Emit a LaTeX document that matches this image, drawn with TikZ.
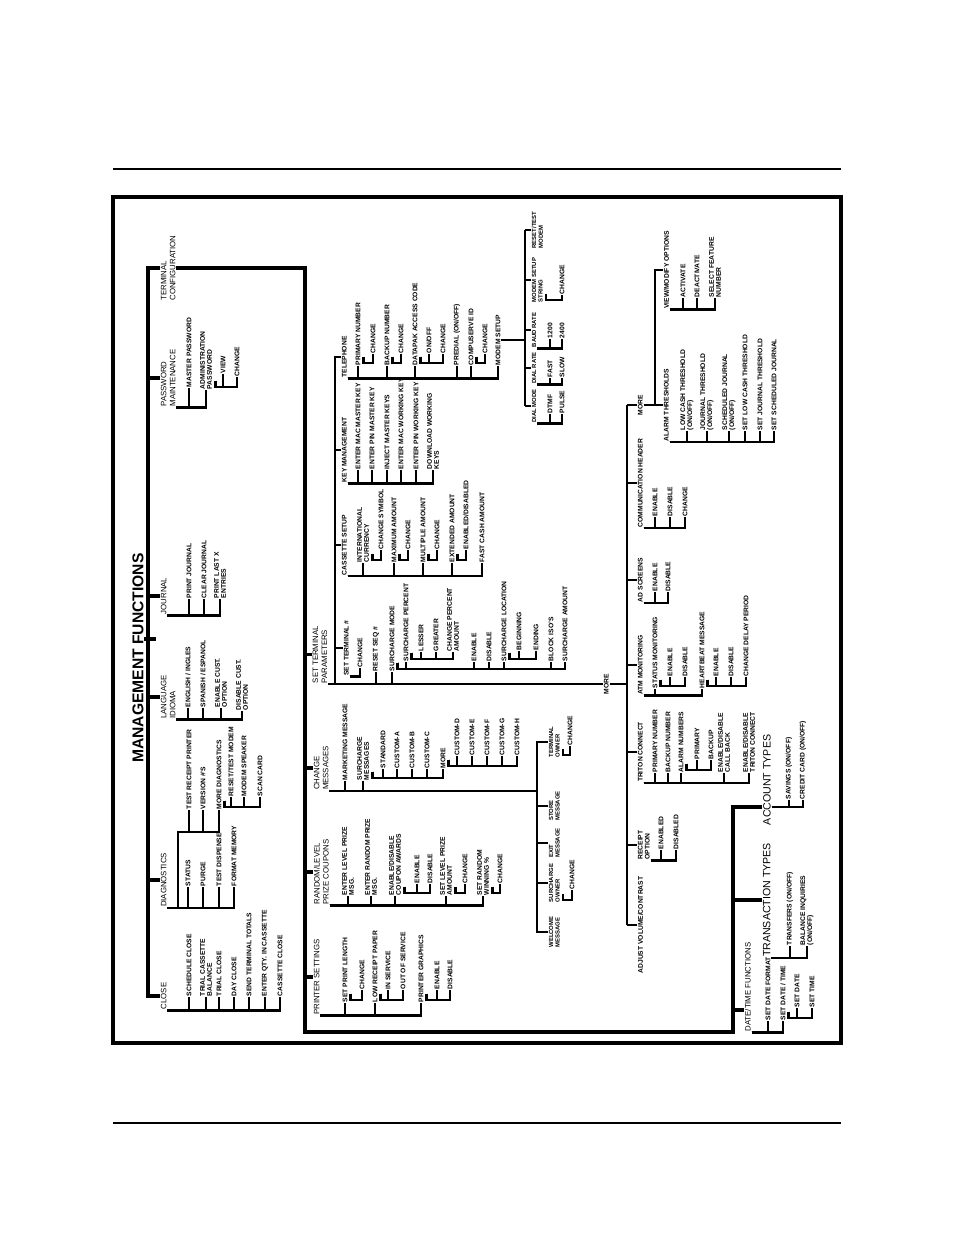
\documentclass[tikz,border=0pt]{standalone}
\usepackage{fontspec}
\setmainfont{Liberation Sans}
\usepackage{tikz}
\usetikzlibrary{calc}
\tikzstyle{br}=[line width=1.7pt]
\tikzstyle{major}=[line width=2.2pt]
\tikzstyle{head}=[rotate=90,anchor=west,inner sep=0.4pt,align=left,font=\fontsize{5}{5.8}\selectfont]
\tikzstyle{leaf}=[rotate=90,anchor=west,inner sep=0.4pt,align=left,font=\bfseries\fontsize{4.3}{4.5}\selectfont]
\tikzstyle{small}=[leaf,font=\bfseries\fontsize{3.8}{4.2}\selectfont]
\tikzstyle{big}=[rotate=90,anchor=west,inner sep=0.4pt,align=left,font=\fontsize{6.8}{7.5}\selectfont]
% bracket under a label, ticks up to its children
\newcommand{\brk}[2]{\foreach \k in {#2} \draw[br] (#1.south west) -| (\k.west);}
\newcommand{\subbrk}[2]{\foreach \k in {#2} \draw[br] ([shift={(1.5pt,6pt)}]#1.south west) -- ([shift={(1.5pt,2pt)}]#1.south west) -| (\k.west);}
\newcommand{\stub}[2]{\draw[br] (#1.north) -- (#1.north -| #2);}
\begin{document}
\begin{tikzpicture}[x=0.64pt,y=-0.64pt]
\useasboundingbox (0,0) rectangle (954,1235);
\draw[line width=1.2pt] (113,169) -- (841,169);
\draw[line width=1.2pt] (113,1123) -- (841,1123);
\draw[line width=2pt] (113,197) rectangle (841,1043);

\node[rotate=90,anchor=west,inner sep=0pt,font=\bfseries\fontsize{10}{12}\selectfont] (mf) at (138,763) {MANAGEMENT FUNCTIONS};

% main column
\node[head,anchor=north] (tc) at (160,268) {TERMINAL\\CONFIGURATION};
\node[head,anchor=north] (pm) at (160,378) {PASSWORD\\MAINTENANCE};
\node[head,anchor=north] (jn) at (160,596) {JOURNAL};
\node[head,anchor=north] (li) at (160,697) {LANGUAGE\\IDIOMA};
\node[head,anchor=north] (dg) at (160,880) {DIAGNOSTICS};
\node[head,anchor=north] (cl) at (160,996) {CLOSE};
\coordinate (sp) at (148,0);
\draw[major] (tc.north) -| (cl.north -| sp) -- (cl.north);
\foreach \k in {pm,jn,li,dg} \draw[major] (\k.north) -- (\k.north -| sp);
\draw[major] ($(mf.south)+(0,-19)$) -- ($(mf.south -| sp)+(8,-19)$);

% password
\node[leaf] (mp) at (189,388) {MASTER PASSWORD};
\node[leaf] (ap) at (206,390) {ADMINISTRATION\\PASSWORD};
\node[leaf] (apv) at (223,374) {VIEW};
\node[leaf] (apc) at (237,377) {CHANGE};
\brk{pm}{mp,ap}
\subbrk{ap}{apv,apc}

% journal
\node[leaf] (pj) at (189,599) {PRINT JOURNAL};
\node[leaf] (cj) at (204,599) {CLEAR JOURNAL};
\node[leaf] (pl) at (220,599) {PRINT LAST X\\ENTRIES};
\brk{jn}{pj,cj,pl}

% language
\node[leaf] (en) at (188,708) {ENGLISH / INGLES};
\node[leaf] (esp) at (203,708) {SPANISH / ESPANOL};
\node[leaf] (ec) at (221,708) {ENABLE CUST.\\OPTION};
\node[leaf] (dc) at (242,711) {DISABLE CUST.\\OPTION};
\brk{li}{en,esp,ec,dc}

% diagnostics
\node[leaf] (st) at (188,887) {STATUS};
\node[leaf] (pu) at (203,887) {PURGE};
\node[leaf] (td) at (219,887) {TEST DISPENSE};
\node[leaf] (fm) at (234,887) {FORMAT MEMORY};
\brk{dg}{st,pu,td,fm}
\coordinate (dgu) at (178,832);
\node[leaf] (tr) at (189,810) {TEST RECEIPT PRINTER};
\node[leaf] (vn) at (203,810) {VERSION \#'S};
\node[leaf] (md) at (219,810) {MORE DIAGNOSTICS};
\draw[br] (dg.south west) -| (dgu) -| (md.west);
\foreach \k in {tr,vn} \draw[br] (dgu) -| (\k.west);
\node[leaf] (rm) at (231,797) {RESET/TEST MODEM};
\node[leaf] (mk) at (244,797) {MODEM SPEAKER};
\node[leaf] (sc) at (260,797) {SCAN CARD};
\subbrk{md}{rm,mk,sc}

% close
\node[leaf] (scl) at (189,997) {SCHEDULE CLOSE};
\node[leaf] (tcb) at (206,997) {TRIAL CASSETTE\\BALANCE};
\node[leaf] (tcl) at (219,997) {TRIAL CLOSE};
\node[leaf] (dcl) at (234,997) {DAY CLOSE};
\node[leaf] (stt) at (249,997) {SEND TERMINAL TOTALS};
\node[leaf] (eq) at (265,997) {ENTER QTY. IN CASSETTE};
\node[leaf] (ccl) at (280,997) {CASSETTE CLOSE};
\brk{cl}{scl,tcb,tcl,dcl,stt,eq,ccl}

% terminal configuration
\coordinate (tcA) at (305,1032);
\coordinate (tcB) at (733,1032);
\coordinate (acy) at (0,807);
\coordinate (dty) at (0,1010);
\node[head,anchor=north] (ps) at (313,977) {PRINTER SETTINGS};
\node[head,anchor=north] (rl) at (313,872) {RANDOM/LEVEL\\PRIZE COUPONS};
\node[head,anchor=north] (cm) at (313,768) {CHANGE\\MESSAGES};
\node[head] (stp) at (320,684) {SET TERMINAL\\PARAMETERS};
\node[big] (act) at (767,826) {ACCOUNT TYPES};
\node[big,anchor=north] (tt) at (762,900) {TRANSACTION TYPES};
\node[head,anchor=north] (dtf) at (744,987) {DATE/TIME FUNCTIONS};
\draw[major] (tc.south) -| (tcA) -- (tcB) |- (act.north |- acy);
\foreach \k in {ps,rl,cm,stp} \draw[major] (\k.north) -- (\k.north -| tcA);
\draw[major] (tt.north) -- (tt.north -| tcB);
\draw[major] (dtf.north |- dty) -- (tcB |- dty);

% printer settings
\node[leaf] (spl) at (345,1003) {SET PRINT LENGTH};
\node[leaf] (lrp) at (375,1003) {LOW RECEIPT PAPER};
\node[leaf] (pg) at (421,1003) {PRINTER GRAPHICS};
\brk{ps}{spl,lrp,pg}
\node[leaf] (spc) at (362,990) {CHANGE};
\node[leaf] (ins) at (388,990) {IN SERVICE};
\node[leaf] (oos) at (403,990) {OUT OF SERVICE};
\node[leaf] (pge) at (437,990) {ENABLE};
\node[leaf] (pgd) at (450,990) {DISABLE};
\subbrk{spl}{spc}
\subbrk{lrp}{ins,oos}
\subbrk{pg}{pge,pgd}

% random / level prize coupons
\node[leaf] (elp) at (348,896) {ENTER LEVEL PRIZE\\MSG.};
\node[leaf] (erp) at (371,896) {ENTER RANDOM PRIZE\\MSG.};
\node[leaf] (edc) at (395,896) {ENABLE/DISABLE\\COUPON AWARDS};
\node[leaf] (slp) at (446,896) {SET LEVEL PRIZE\\AMOUNT};
\node[leaf] (srw) at (483,896) {SET RANDOM\\WINNING \%};
\brk{rl}{elp,erp,edc,slp,srw}
\node[leaf] (ede) at (417,884) {ENABLE};
\node[leaf] (edd) at (430,884) {DISABLE};
\node[leaf] (slc) at (465,884) {CHANGE};
\node[leaf] (src) at (500,884) {CHANGE};
\subbrk{edc}{ede,edd}
\subbrk{slp}{slc}
\subbrk{srw}{src}

% change messages
\node[leaf] (mm) at (345,781) {MARKETING MESSAGE};
\node[leaf] (sm) at (363,781) {SURCHARGE\\MESSAGES};
\brk{cm}{mm,sm}
\node[leaf] (sstd) at (383,769) {STANDARD};
\node[leaf] (sca) at (397,769) {CUSTOM-A};
\node[leaf] (scb) at (412,769) {CUSTOM-B};
\node[leaf] (scc) at (427,769) {CUSTOM-C};
\node[leaf] (smo) at (443,769) {MORE};
\subbrk{sm}{sstd,sca,scb,scc,smo}
\node[leaf] (scd) at (457,756) {CUSTOM-D};
\node[leaf] (sce) at (472,756) {CUSTOM-E};
\node[leaf] (scf) at (487,756) {CUSTOM-F};
\node[leaf] (scg) at (502,756) {CUSTOM-G};
\node[leaf] (sch) at (517,756) {CUSTOM-H};
\subbrk{smo}{scd,sce,scf,scg,sch}
\coordinate (cmv) at (537,0);
\node[small,anchor=north] (wm) at (548,932) {WELCOME\\MESSAGE};
\node[small,anchor=north] (so) at (548,883) {SURCHARGE\\OWNER};
\node[small,anchor=north] (em) at (548,843) {EXIT\\MESSAGE};
\node[small,anchor=north] (sto) at (548,806) {STORE\\MESSAGE};
\node[small,anchor=north] (tow) at (548,742) {TERMINAL\\OWNER};
\draw[br] (cm.south west) -| (tow.north -| cmv) -- (tow.north);
\draw[br] (cm.south west -| cmv) |- (wm.north);
\stub{so}{cmv} \stub{em}{cmv} \stub{sto}{cmv}
\node[leaf] (soc) at (572,890) {CHANGE};
\node[leaf] (toc) at (570,746) {CHANGE};
\subbrk{so}{soc}
\subbrk{tow}{toc}

% set terminal parameters
\coordinate (stv) at (335,0);
\node[leaf,anchor=north] (mo) at (603,684) {MORE};
\node[leaf,anchor=north] (cs) at (341,545) {CASSETTE SETUP};
\node[leaf,anchor=north] (km) at (341,450) {KEY MANAGEMENT};
\node[leaf,anchor=north] (tel) at (341,357) {TELEPHONE};
\node[leaf,anchor=north] (stn) at (343,648) {SET TERMINAL \#};
\draw[br] (stp.south west) -- (mo.north);
\draw[br] (stp.south west -| stv) |- (tel.north);
\stub{cs}{stv} \stub{km}{stv} \stub{stn}{stv}
\node[leaf] (stc) at (360,668) {CHANGE};
\brk{stn}{stc}
\node[leaf] (rsq) at (376,672) {RESET SEQ \#};
\node[leaf] (smd) at (392,672) {SURCHARGE MODE};
\brk{stp}{rsq,smd}
\node[leaf] (spct) at (406,662) {SURCHARGE PERCENT};
\node[leaf] (sen) at (474,662) {ENABLE};
\node[leaf] (sdi) at (489,662) {DISABLE};
\node[leaf] (sloc) at (504,662) {SURCHARGE LOCATION};
\node[leaf] (bis) at (551,662) {BLOCK ISO'S};
\node[leaf] (sam) at (565,662) {SURCHARGE AMOUNT};
\subbrk{smd}{spct,sen,sdi,sloc,bis,sam}
\node[leaf] (lsr) at (421,652) {LESSER};
\node[leaf] (grt) at (436,652) {GREATER};
\node[leaf] (cpa) at (453,652) {CHANGE PERCENT\\AMOUNT};
\subbrk{spct}{lsr,grt,cpa}
\node[leaf] (bgn) at (519,651) {BEGINNING};
\node[leaf] (edg) at (536,651) {ENDING};
\subbrk{sloc}{bgn,edg}

% cassette setup
\node[leaf] (icu) at (363,563) {INTERNATIONAL\\CURRENCY};
\node[leaf] (mxa) at (394,563) {MAXIMUM AMOUNT};
\node[leaf] (mla) at (423,563) {MULTIPLE AMOUNT};
\node[leaf] (exa) at (452,563) {EXTENDED AMOUNT};
\node[leaf] (fca) at (482,563) {FAST CASH AMOUNT};
\brk{cs}{icu,mxa,mla,exa,fca}
\node[leaf] (csy) at (381,550) {CHANGE SYMBOL};
\node[leaf] (mxc) at (408,550) {CHANGE};
\node[leaf] (mlc) at (437,550) {CHANGE};
\node[leaf] (exe) at (466,550) {ENABLED/DISABLED};
\subbrk{icu}{csy}
\subbrk{mxa}{mxc}
\subbrk{mla}{mlc}
\subbrk{exa}{exe}

% key management
\node[leaf] (emm) at (358,470) {ENTER MAC MASTER KEY};
\node[leaf] (epm) at (372,470) {ENTER PIN MASTER KEY};
\node[leaf] (imk) at (387,470) {INJECT MASTER KEYS};
\node[leaf] (emw) at (401,470) {ENTER MAC WORKING KEY};
\node[leaf] (epw) at (416,470) {ENTER PIN WORKING KEY};
\node[leaf] (dwk) at (433,470) {DOWNLOAD WORKING\\KEYS};
\brk{km}{emm,epm,imk,emw,epw,dwk}

% telephone
\node[leaf] (prn) at (358,366) {PRIMARY NUMBER};
\node[leaf] (bkn) at (387,366) {BACKUP NUMBER};
\node[leaf] (dac) at (415,366) {DATAPAK ACCESS CODE};
\node[leaf] (pdl) at (457,366) {PREDIAL (ON/OFF)};
\node[leaf] (cid) at (471,366) {COMPUSERVE ID};
\node[leaf] (msu) at (498,366) {MODEM SETUP};
\brk{tel}{prn,bkn,dac,pdl,cid,msu}
\node[leaf] (prc) at (373,354) {CHANGE};
\node[leaf] (bkc) at (401,354) {CHANGE};
\node[leaf] (dao) at (429,354) {ON/OFF};
\node[leaf] (dch) at (443,354) {CHANGE};
\node[leaf] (cic) at (485,354) {CHANGE};
\subbrk{prn}{prc}
\subbrk{bkn}{bkc}
\subbrk{dac}{dao,dch}
\subbrk{cid}{cic}

% modem setup
\coordinate (msv) at (525,0);
\node[small,anchor=north] (dmo) at (531,406) {DIAL MODE};
\node[small,anchor=north] (dra) at (531,368) {DIAL RATE};
\node[small,anchor=north] (bra) at (531,330) {BAUD RATE};
\node[small,anchor=north] (mss) at (531,280) {MODEM SETUP\\STRING};
\node[small,anchor=north] (rtm) at (531,230) {RESET/TEST\\MODEM};
\draw[br] (msu.south) -- (msu.south -| msv);
\draw[br] (rtm.north -| msv) -- (dmo.north -| msv);
\foreach \k in {dmo,dra,bra,mss,rtm} {\stub{\k}{msv}}
\node[leaf] (dtm) at (550,414) {DTMF};
\node[leaf] (pls) at (562,414) {PULSE};
\brk{dmo}{dtm,pls}
\node[leaf] (fst) at (550,378) {FAST};
\node[leaf] (slw) at (562,378) {SLOW};
\brk{dra}{fst,slw}
\node[leaf] (b12) at (550,339) {1200};
\node[leaf] (b24) at (562,339) {2400};
\brk{bra}{b12,b24}
\node[leaf] (msc) at (562,295) {CHANGE};
\subbrk{mss}{msc}

% more
\coordinate (mv) at (627,0);
\node[leaf,anchor=north] (mo2) at (637,405) {MORE};
\node[leaf,anchor=north] (ch) at (637,483) {COMMUNICATION HEADER};
\node[leaf,anchor=north] (ad) at (637,580) {AD SCREENS};
\node[leaf,anchor=north] (atm) at (637,665) {ATM MONITORING};
\node[leaf,anchor=north] (tcn) at (637,752) {TRITON CONNECT};
\node[leaf,anchor=north] (ro) at (637,845) {RECEIPT\\OPTION};
\node[leaf,anchor=north] (av) at (637,925) {ADJUST VOLUME/CONTRAST};
\draw[br] (mo.south) -- (mo.south -| mv);
\draw[br] (mo2.north -| mv) -- (av.north -| mv);
\foreach \k in {mo2,ch,ad,atm,tcn,ro,av} {\stub{\k}{mv}}

\node[leaf] (che) at (655,517) {ENABLE};
\node[leaf] (chd) at (670,517) {DISABLE};
\node[leaf] (chc) at (685,517) {CHANGE};
\brk{ch}{che,chd,chc}
\node[leaf] (ade) at (655,592) {ENABLE};
\node[leaf] (add) at (668,592) {DISABLE};
\brk{ad}{ade,add}
\node[leaf] (smn) at (655,689) {STATUS MONITORING};
\node[leaf] (hbm) at (702,689) {HEARTBEAT MESSAGE};
\brk{atm}{smn,hbm}
\node[leaf] (sme) at (670,677) {ENABLE};
\node[leaf] (smdi) at (685,677) {DISABLE};
\subbrk{smn}{sme,smdi}
\node[leaf] (hbe) at (716,677) {ENABLE};
\node[leaf] (hbd) at (731,677) {DISABLE};
\node[leaf] (cdp) at (746,677) {CHANGE DELAY PERIOD};
\subbrk{hbm}{hbe,hbd,cdp}
\node[leaf] (pn2) at (655,773) {PRIMARY NUMBER};
\node[leaf] (bn2) at (668,773) {BACKUP NUMBER};
\node[leaf] (an) at (681,773) {ALARM NUMBERS};
\node[leaf] (edb) at (724,773) {ENABLE/DISABLE\\CALL BACK};
\node[leaf] (edt) at (749,773) {ENABLE/DISABLE\\TRITON CONNECT};
\brk{tcn}{pn2,bn2,an,edb,edt}
\node[leaf] (anp) at (697,760) {PRIMARY};
\node[leaf] (anb) at (711,760) {BACKUP};
\subbrk{an}{anp,anb}
\node[leaf] (ren) at (661,850) {ENABLED};
\node[leaf] (rdi) at (676,850) {DISABLED};
\brk{ro}{ren,rdi}

% more (second page)
\coordinate (mv2) at (655,0);
\node[leaf,anchor=north] (alt) at (663,405) {ALARM THRESHOLDS};
\node[leaf,anchor=north] (vmo) at (663,270) {VIEW/MODIFY OPTIONS};
\draw[br] (mo2.south) -- (alt.north);
\draw[br] (mo2.south -| mv2) |- (vmo.north);
\node[leaf] (lct) at (687,431) {LOW CASH THRESHOLD\\(ON/OFF)};
\node[leaf] (jth) at (707,431) {JOURNAL THRESHOLD\\(ON/OFF)};
\node[leaf] (sjo) at (729,431) {SCHEDULED JOURNAL\\(ON/OFF)};
\node[leaf] (slct) at (745,431) {SET LOW CASH THRESHOLD};
\node[leaf] (sjth) at (760,431) {SET JOURNAL THRESHOLD};
\node[leaf] (ssj) at (774,431) {SET SCHEDULED JOURNAL};
\brk{alt}{lct,jth,sjo,slct,sjth,ssj}
\node[leaf] (acv) at (683,298) {ACTIVATE};
\node[leaf] (dcv) at (697,298) {DEACTIVATE};
\node[leaf] (sfn) at (715,298) {SELECT FEATURE\\NUMBER};
\brk{vmo}{acv,dcv,sfn}

% account / transaction / date-time
\node[leaf] (sav) at (789,800) {SAVINGS (ON/OFF)};
\node[leaf] (ccd) at (803,800) {CREDIT CARD (ON/OFF)};
\foreach \k in {sav,ccd} \draw[br] (act.south |- acy) -| (\k.west);
\node[leaf] (trf) at (790,946) {TRANSFERS (ON/OFF)};
\node[leaf] (bal) at (807,946) {BALANCE INQUIRIES\\(ON/OFF)};
\brk{tt}{trf,bal}
\node[leaf] (sdf) at (768,1021) {SET DATE FORMAT};
\node[leaf] (sdt) at (783,1021) {SET DATE / TIME};
\brk{dtf}{sdf,sdt}
\node[leaf] (sdd) at (797,1008) {SET DATE};
\node[leaf] (stim) at (812,1008) {SET TIME};
\subbrk{sdt}{sdd,stim}
\end{tikzpicture}
\end{document}
